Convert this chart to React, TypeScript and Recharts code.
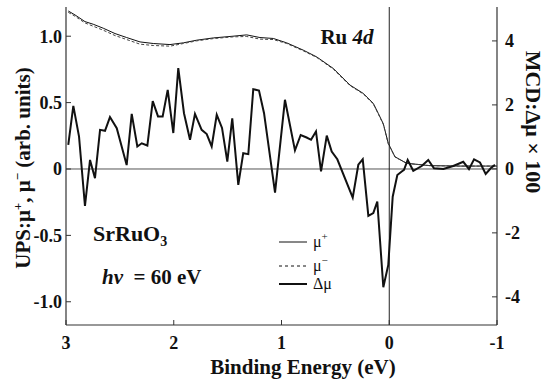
import React from "react";
import {
  LineChart, Line, XAxis, YAxis, ReferenceLine, Legend,
} from "recharts";

// binding energies (eV) for the UPS spectra
const muEnergy = [
  2.979, 2.916, 2.824, 2.747, 2.654, 2.545, 2.437, 2.313, 2.19, 2.035, 1.911, 1.787,
  1.633, 1.45, 1.323, 1.2, 1.076, 0.952, 0.798, 0.673, 0.519, 0.364, 0.241, 0.148,
  0.102, 0.055, 0.009, -0.053, -0.162, -0.378, -0.657, -1.0,
];
const muPlus = [
  1.19, 1.16, 1.11, 1.09, 1.06, 1.02, 0.99, 0.957, 0.945, 0.937, 0.95, 0.97,
  0.987, 1.0, 1.01, 0.99, 0.983, 0.95, 0.895, 0.844, 0.757, 0.632, 0.569, 0.494,
  0.419, 0.34, 0.193, 0.092, 0.043, 0.025, 0.022, 0.022,
];
const muMinus = [
  1.18, 1.15, 1.1, 1.075, 1.045, 1.005, 0.975, 0.94, 0.93, 0.925, 0.945, 0.965,
  0.982, 0.995, 0.998, 0.978, 0.975, 0.945, 0.89, 0.84, 0.752, 0.628, 0.565, 0.49,
  0.415, 0.336, 0.19, 0.09, 0.042, 0.025, 0.022, 0.022,
];

// MCD difference (x100), own energy grid
const dmuEnergy = [
  2.979, 2.932, 2.879, 2.824, 2.777, 2.731, 2.684, 2.638, 2.592, 2.529, 2.437, 2.39,
  2.338, 2.297, 2.245, 2.195, 2.146, 2.103, 2.056, 2.004, 1.958, 1.905, 1.849, 1.803,
  1.741, 1.694, 1.648, 1.601, 1.552, 1.503, 1.457, 1.401, 1.355, 1.308, 1.262, 1.209,
  1.162, 1.06, 0.968, 0.875, 0.822, 0.767, 0.726, 0.68, 0.633, 0.58, 0.534, 0.482,
  0.339, 0.287, 0.246, 0.194, 0.148, 0.111, 0.055, 0.009, -0.032, -0.075, -0.116, -0.137,
  -0.171, -0.223, -0.301, -0.362, -0.415, -0.502, -0.594, -0.687, -0.74, -0.787, -0.842, -0.895,
  -0.942, -0.981,
];
const dmu = [
  0.75, 1.97, 1.01, -1.16, 0.28, -0.29, 1.22, 1.19, 1.62, 1.27, 0.12, 1.72,
  0.7, 0.8, 0.73, 2.12, 1.64, 1.64, 2.47, 1.12, 3.15, 1.74, 0.91, 1.72,
  1.22, 1.09, 0.7, 1.69, 1.28, 0.23, 1.58, -0.5, 0.49, 0.46, 2.49, 2.45,
  1.74, -0.74, 2.16, 0.58, 1.06, 0.98, 0.91, 1.17, -0.08, 1.04, 0.54, 0.3,
  -0.9, 0.13, 0.3, -1.47, -1.38, -1.02, -3.7, -3.0, -0.87, -0.19, -0.08, -0.03,
  0.28, -0.06, 0.09, 0.28, 0.02, 0.0, 0.09, 0.22, -0.01, 0.3, 0.2, -0.16,
  0.02, 0.13,
];

const xTicks = [3, 2, 1, 0, -1];
const leftTicks = [-1, -0.5, 0, 0.5, 1];
const rightTicks = [-4, -2, 0, 2, 4];

const muData = muEnergy.map((e, i) => ({ e, plus: muPlus[i], minus: muMinus[i] }));
const dmuData = dmuEnergy.map((e, i) => ({ e, d: dmu[i] }));

const FONT = '"Liberation Serif", "Times New Roman", serif';
const AXIS = "#333";
const tickStyle = { fontSize: 18, fontWeight: 700, fill: "#111", fontFamily: FONT };

function LegendBox() {
  const rows = [
    { y: 14, dash: undefined, w: 1, label: "μ", sup: "+" },
    { y: 38, dash: "3 3", w: 1, label: "μ", sup: "−" },
    { y: 56, dash: undefined, w: 2, label: "Δμ", sup: "" },
  ];
  return (
    <svg width={90} height={66} style={{ overflow: "visible" }}>
      {rows.map((r) => (
        <g key={r.y}>
          <line x1={0} x2={28} y1={r.y} y2={r.y} stroke="#111" strokeWidth={r.w} strokeDasharray={r.dash} />
          <text x={34} y={r.y + 5} fontSize={16} fontFamily={FONT} fill="#111">
            {r.label}
            {r.sup && <tspan dy={-7} fontSize={11}>{r.sup}</tspan>}
          </text>
        </g>
      ))}
    </svg>
  );
}

const abs = (left: number, top: number, extra: React.CSSProperties = {}): React.CSSProperties => ({
  position: "absolute", left, top, whiteSpace: "nowrap", fontFamily: FONT, fontWeight: 700,
  color: "#111", lineHeight: 1, ...extra,
});

export default function App() {
  return (
    <div style={{ position: "fixed", left: 0, top: 0, width: 547, height: 380, background: "#fff" }}>
      <LineChart width={547} height={380} margin={{ top: 7, right: 10, left: 16, bottom: 25 }}>
        <XAxis
          dataKey="e" type="number" domain={[-1, 3]} reversed ticks={xTicks}
          allowDataOverflow height={30}
          tick={tickStyle} tickSize={-5} tickMargin={16}
          axisLine={{ stroke: AXIS, strokeWidth: 1.2 }} tickLine={{ stroke: AXIS }}
        />
        <XAxis
          xAxisId="top" orientation="top" dataKey="e" type="number" domain={[-1, 3]} reversed
          ticks={[2, 1]} height={0} tick={false} tickSize={-5}
          axisLine={{ stroke: AXIS, strokeWidth: 1.2 }} tickLine={{ stroke: AXIS }}
        />
        <YAxis
          yAxisId="left" type="number" domain={[-1.175, 1.22]} ticks={leftTicks} width={50}
          allowDataOverflow tick={tickStyle} tickSize={-5} tickMargin={9}
          tickFormatter={(v: number) => (v === 0 ? "0" : v.toFixed(1))}
          axisLine={{ stroke: AXIS, strokeWidth: 1.2 }} tickLine={{ stroke: AXIS }}
        />
        <YAxis
          yAxisId="right" orientation="right" type="number" domain={[-4.88, 5.06]} ticks={rightTicks}
          width={40} allowDataOverflow tick={tickStyle} tickSize={-5} tickMargin={13}
          axisLine={{ stroke: AXIS, strokeWidth: 1.2 }} tickLine={{ stroke: AXIS }}
        />
        <ReferenceLine yAxisId="left" y={0} stroke="#555" strokeWidth={1} />
        <ReferenceLine yAxisId="left" x={0} stroke="#222" strokeWidth={1} />
        <Line
          yAxisId="left" data={muData} dataKey="plus" type="linear" dot={false}
          stroke="#111" strokeWidth={1} isAnimationActive={false}
        />
        <Line
          yAxisId="left" data={muData} dataKey="minus" type="linear" dot={false}
          stroke="#444" strokeWidth={1} strokeDasharray="3 2" isAnimationActive={false}
        />
        <Line
          yAxisId="right" data={dmuData} dataKey="d" type="linear" dot={false}
          stroke="#111" strokeWidth={2} isAnimationActive={false}
        />
        <Legend
          layout="horizontal" verticalAlign="middle" align="center"
          wrapperStyle={{ left: 279, top: 228, width: 90, height: 66 }}
          content={() => <LegendBox />}
        />
      </LineChart>

      <div style={abs(347, 37, { fontSize: 21, transform: "translate(-50%, -50%)" })}>
        Ru <i>4d</i>
      </div>
      <div style={abs(93, 236, { fontSize: 22, transform: "translateY(-50%)" })}>
        SrRuO<sub style={{ fontSize: 14 }}>3</sub>
      </div>
      <div style={abs(102, 277, { fontSize: 21, transform: "translateY(-50%)" })}>
        <i>hν</i> &nbsp;= 60 eV
      </div>
      <div style={abs(303, 367, { fontSize: 21, transform: "translate(-50%, -50%)" })}>
        Binding Energy (eV)
      </div>
      <div style={abs(22, 168, { fontSize: 21, transform: "translate(-50%, -50%) rotate(-90deg)" })}>
        UPS:μ<sup style={{ fontSize: 13 }}>+</sup>, μ<sup style={{ fontSize: 13 }}>−</sup> (arb. units)
      </div>
      <div style={abs(533, 122, { fontSize: 22, transform: "translate(-50%, -50%) rotate(90deg)" })}>
        MCD:Δμ × 100
      </div>
    </div>
  );
}
